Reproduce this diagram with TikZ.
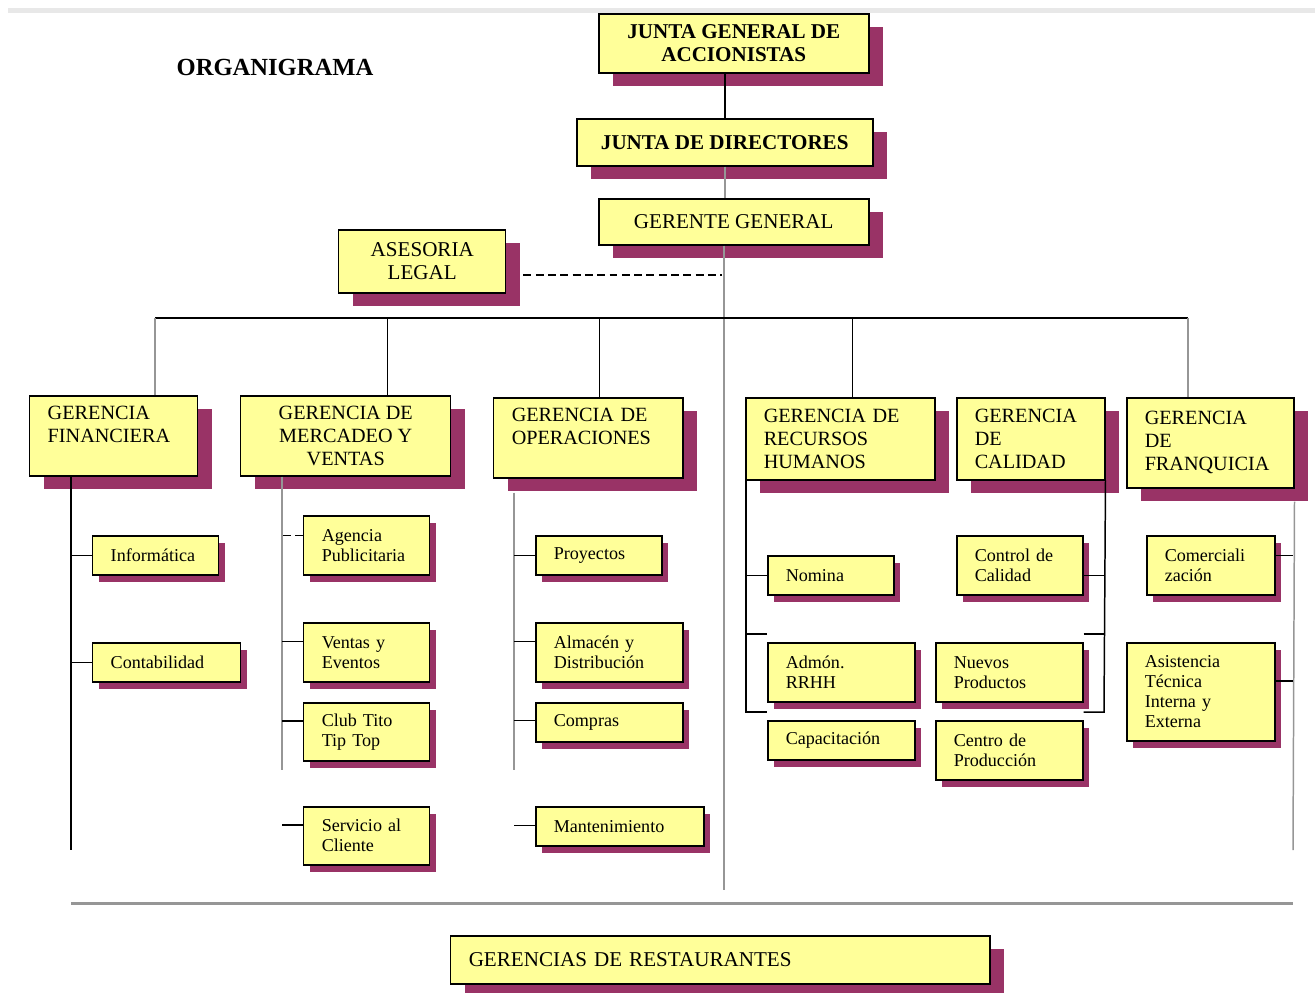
\documentclass[tikz,border=0pt]{standalone}
\usepackage{fontspec}
\setmainfont{Liberation Serif}
\usepackage{tikz}
\usetikzlibrary{shadows}
\usetikzlibrary{calc}

\begin{document}
\begin{tikzpicture}[x=0.02cm, y=-0.02cm,
  box/.style 2 args={draw=black, line width=\lwidth, fill=boxfill, anchor=north west,
    minimum width=#1*\px, minimum height=#2*\px, inner sep=0pt},
  cbox/.style 2 args={box={#1}{#2}, align=center},
  lbox/.style 2 args={box={#1}{#2}, align=left, text width=#1*\px-36*\px, inner xsep=18*\px},
  bigshadow/.style={general shadow={fill=boxshadow, shadow xshift=14*\px, shadow yshift=-13*\px}},
  smallshadow/.style={general shadow={fill=boxshadow, shadow xshift=6*\px, shadow yshift=-7*\px}},
  titlefont/.style={font=\fontsize{14}{16}\selectfont\bfseries},
  topfont/.style={font=\fontsize{12}{13}\selectfont\bfseries},
  gerfont/.style={font=\fontsize{11.5}{13}\selectfont},
  subfont/.style={font=\fontsize{10.3}{11.4}\selectfont},
  link/.style={line width=\lwidth},
  glink/.style={line width=\lwidth, draw=linegray},
  dlink/.style={line width=\lwidth, dash pattern=on 4.5pt off 2.5pt}]
  \definecolor{boxfill}{RGB}{255,255,153}
  \definecolor{boxshadow}{RGB}{153,51,102}
  \definecolor{linegray}{RGB}{150,150,150}

  \def\px{0.02cm}
  \def\lwidth{0.85pt}

  \useasboundingbox (0,0) rectangle (1315,992);
  \draw[draw=gray!18, line width=5*\px] (8,10) -- (1315,10);

  \node[titlefont] (title) at (275,67) {ORGANIGRAMA};

  % top levels
  \node[cbox={270}{59}, bigshadow, topfont] (jga) at (598,13) {JUNTA GENERAL DE\\ACCIONISTAS};
  \node[cbox={296}{47}, bigshadow, topfont] (jd) at (576,118) {JUNTA DE DIRECTORES};
  \node[cbox={270}{46}, bigshadow, font=\fontsize{12}{13}\selectfont] (gg) at (598,198) {GERENTE GENERAL};
  \node[cbox={167}{63}, bigshadow, font=\fontsize{12}{13}\selectfont] (al) at (338,229) {ASESORIA\\LEGAL};

  % gerencias
  \node[lbox={168}{80}, bigshadow, gerfont] (fin) at (29,395) {GERENCIA\\FINANCIERA\\~};
  \node[cbox={210}{80}, bigshadow, gerfont] (merc) at (240,395) {GERENCIA DE\\MERCADEO Y\\VENTAS};
  \node[lbox={189}{80}, bigshadow, gerfont] (oper) at (493,397) {GERENCIA DE\\OPERACIONES\\~};
  \node[lbox={189}{82}, bigshadow, gerfont] (rrhh) at (745,397) {GERENCIA DE\\RECURSOS\\HUMANOS};
  \node[lbox={148}{82}, bigshadow, gerfont] (cal) at (956,397) {GERENCIA\\DE\\CALIDAD};
  \node[lbox={167}{90}, bigshadow, gerfont] (franq) at (1126,397) {GERENCIA\\DE\\FRANQUICIA};

  % financiera
  \node[lbox={126}{39}, smallshadow, subfont] (info) at (92,535) {Informática};
  \node[lbox={148}{39}, smallshadow, subfont] (cont) at (92,642) {Contabilidad};

  % mercadeo
  \node[lbox={126}{59}, smallshadow, subfont] (agen) at (303,515) {Agencia\\Publicitaria};
  \node[lbox={126}{59}, smallshadow, subfont] (vent) at (303,622) {Ventas y\\Eventos};
  \node[lbox={126}{58}, smallshadow, subfont] (club) at (303,702) {Club Tito\\Tip Top};
  \node[lbox={126}{58}, smallshadow, subfont] (serv) at (303,806) {Servicio al\\Cliente};

  % operaciones
  \node[lbox={126}{39}, smallshadow, subfont] (proy) at (535,535) {Proyectos};
  \node[lbox={147}{59}, smallshadow, subfont] (alm) at (535,622) {Almacén y\\Distribución};
  \node[lbox={147}{39}, smallshadow, subfont] (comp) at (535,702) {Compras};
  \node[lbox={168}{39}, smallshadow, subfont] (mant) at (535,806) {Mantenimiento};

  % recursos humanos
  \node[lbox={126}{39}, smallshadow, subfont] (nom) at (767,555) {Nomina};
  \node[lbox={147}{59}, smallshadow, subfont] (adm) at (767,642) {Admón.\\RRHH};
  \node[lbox={147}{39}, smallshadow, subfont] (capa) at (767,720) {Capacitación};

  % calidad
  \node[lbox={126}{59}, smallshadow, subfont] (ctrl) at (956,535) {Control de\\Calidad};
  \node[lbox={147}{59}, smallshadow, subfont] (nuev) at (935,642) {Nuevos\\Productos};
  \node[lbox={147}{59}, smallshadow, subfont] (cent) at (935,720) {Centro de\\Producción};

  % franquicia
  \node[lbox={128}{59}, smallshadow, subfont] (comer) at (1146,535) {Comerciali\\zación};
  \node[lbox={148}{98}, smallshadow, subfont] (asis) at (1126,642) {Asistencia\\Técnica\\Interna y\\Externa};

  % restaurantes
  \node[lbox={539}{48}, bigshadow, font=\fontsize{12}{13}\selectfont] (rest) at (450,935) {GERENCIAS DE RESTAURANTES};

  % main trunk
  \draw[link] (jga.south -| jd.north) -- (jd.north);
  \draw[glink] (jd.south) -- (jd.south |- gg.north);
  \coordinate (trunkend) at (724,890);
  \draw[glink] (gg.south -| trunkend) -- (trunkend);
  \coordinate (alend) at (722,275);
  \draw[dlink] ([xshift=17*\px]al.east |- alend) -- (alend);

  % bus to gerencias
  \coordinate (busL) at (155,318);
  \coordinate (busR) at (1188,318);
  \draw[link] (busL) -- (busR);
  \foreach \n/\dx in {merc/42, oper/11, rrhh/12}
    \draw[link] ([xshift=\dx*\px]\n.north) -- ([xshift=\dx*\px]\n.north |- busL);
  \draw[glink] (fin.north -| busL) -- (busL);
  \draw[glink] (franq.north -| busR) -- (busR);

  % financiera lines
  \coordinate (finend) at (71,850);
  \draw[link] (fin.south -| finend) -- (finend);
  \foreach \n in {info, cont}
    \draw[link] (\n.west) -- (\n.west -| finend);

  % mercadeo lines
  \coordinate (mercend) at (282,770);
  \draw[glink] (merc.south -| mercend) -- (mercend);
  \draw[dlink] ([yshift=10*\px]agen.west) -- ([yshift=10*\px]agen.west -| mercend);
  \foreach \n in {vent, club, serv}
    \draw[link] ([yshift=11*\px]\n.west) -- ([yshift=11*\px]\n.west -| mercend);

  % operaciones lines
  \coordinate (operend) at (514,770);
  \draw[glink] ([yshift=-14*\px]oper.south -| operend) -- (operend);
  \foreach \n/\dy in {proy/0, alm/11, comp/2, mant/1}
    \draw[link] ([yshift=\dy*\px]\n.west) -- ([yshift=\dy*\px]\n.west -| operend);

  % recursos humanos lines
  \coordinate (rrhhend) at (746,712);
  \draw[link] (rrhh.south -| rrhhend) -- (rrhhend) -- (rrhhend -| adm.west);
  \draw[link] (nom.west) -- (nom.west -| rrhhend);
  \draw[link] ([yshift=8*\px]adm.north west) -- ([yshift=8*\px]adm.north west -| rrhhend);

  % calidad lines
  \coordinate (calend) at (1104,712);
  \draw[link] (cal.south east) -- (calend) -- (calend -| nuev.east);
  \draw[link] ([yshift=-10*\px]ctrl.east) -- ([yshift=-10*\px]ctrl.east -| calend);
  \draw[link] ([yshift=8*\px]nuev.north east) -- ([yshift=8*\px]nuev.north east -| calend);

  % franquicia lines
  \coordinate (franqend) at (1293,850);
  \draw[glink] ([yshift=-13*\px]franq.south east) -- (franqend);
  \draw[link] ([yshift=10*\px]comer.east) -- ([yshift=10*\px]comer.east -| franqend);
  \draw[link] ([yshift=11*\px]asis.east) -- ([yshift=11*\px]asis.east -| franqend);

  % separator
  \coordinate (sepL) at (71,903);
  \coordinate (sepR) at (1293,903);
  \draw[draw=linegray, line width=3*\px] (sepL) -- (sepR);

\end{tikzpicture}
\end{document}
